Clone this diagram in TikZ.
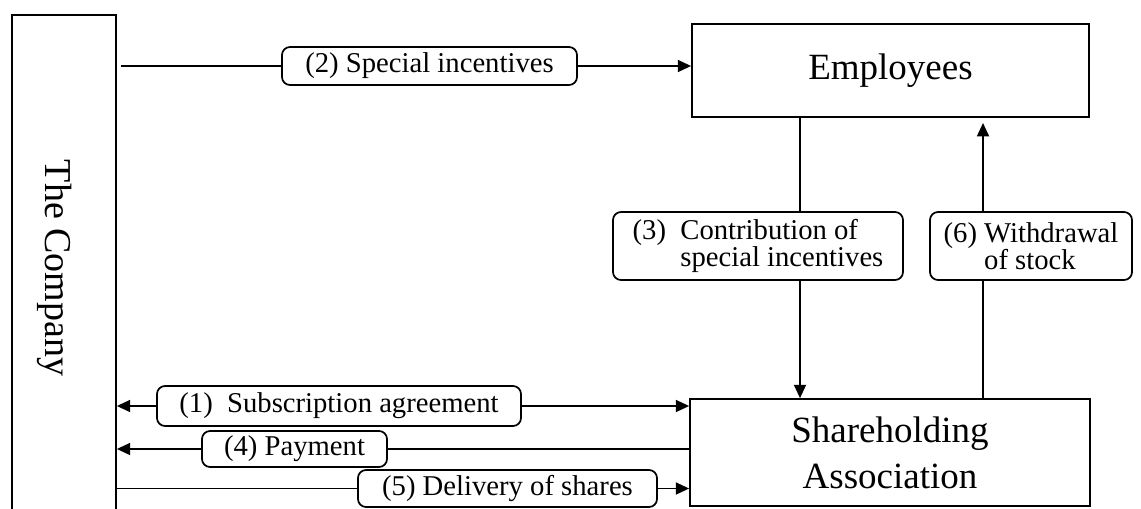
\documentclass[tikz,border=0pt]{standalone}
\usepackage{fontspec}
\usepackage{graphicx}
\setmainfont{Liberation Serif}
\usetikzlibrary{arrows.meta}
\newcommand{\pxu}{0.75pt}
\tikzset{
  every path/.style={line width=1.3pt},
  box/.style={draw, line width=1.3pt, inner sep=0pt, align=center,
    font=\fontsize{27.75pt}{34.5pt}\selectfont},
  lab/.style={draw, rounded corners=6pt, line width=1.3pt, fill=white, inner sep=0pt,
    align=left, font=\fontsize{21.5pt}{19pt}\selectfont},
  tip/.tip={Triangle[length=10pt,width=9pt]}
}
\begin{document}
\begin{tikzpicture}[x=0.75pt,y=-0.75pt]
\useasboundingbox (0,0) rectangle (1141,508);
% main boxes
\node[box, minimum width=104*\pxu, minimum height=515*\pxu] (company) at (64,272.5) {};
\node[font=\fontsize{28.5pt}{30pt}\selectfont, rotate=-90] (comptext) at (55,268) {The Company};
\node[box, minimum width=397*\pxu, minimum height=93*\pxu] (emp) at (890.5,70.5) {Employees};
\node[box, minimum width=400*\pxu, minimum height=107*\pxu] (share) at (890,452.5) {Shareholding\\Association};
% labels
\node[lab, minimum width=295*\pxu, minimum height=38*\pxu] (L2) at (429.5,66) {(2) Special incentives};
\node[lab, minimum width=364*\pxu, minimum height=40*\pxu] (L1) at (339,406) {(1)\ \ Subscription agreement};
\node[lab, minimum width=185*\pxu, minimum height=36*\pxu] (L4) at (294.5,449) {(4) Payment};
\node[lab, minimum width=299*\pxu, minimum height=37*\pxu] (L5) at (507.5,488.5) {(5) Delivery of shares};
\node[lab, minimum width=290*\pxu, minimum height=68*\pxu] (L3) at (758,246) {(3)\ \ Contribution of\\\hphantom{(3)\ \ }special incentives};
\node[lab, minimum width=202*\pxu, minimum height=68*\pxu] (L6) at (1031,246) {(6) Withdrawal\\\hphantom{(6) }of stock};
% helper coordinates
\coordinate (x3) at (800,0);
\coordinate (x6) at (983,0);
\coordinate (e6) at (983,123);
% connectors
\draw[shorten <=3pt] (company.east |- L2) -- (L2.west);
\draw[-tip] (L2.east) -- (emp.west |- L2);
\draw[tip-] (company.east |- L1) -- (L1.west);
\draw[-tip] (L1.east) -- (share.west |- L1);
\draw[-tip] (L4.west) -- (company.east |- L4);
\draw (share.west |- L4) -- (L4.east);
\draw (company.east |- L5) -- (L5.west);
\draw[-tip] (L5.east) -- (share.west |- L5);
\draw (emp.south -| x3) -- (L3.north -| x3);
\draw[-tip] (L3.south -| x3) -- (share.north -| x3);
\draw (share.north -| x6) -- (L6.south -| x6);
\draw[-tip] (L6.north -| x6) -- (e6);
\end{tikzpicture}
\end{document}
